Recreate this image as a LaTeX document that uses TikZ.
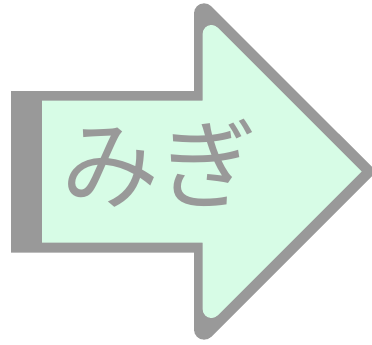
\documentclass[tikz,border=0pt]{standalone}
\usepackage{fontspec}
\newfontfamily\cjk{Noto Sans CJK JP}
\definecolor{rimgray}{HTML}{999999}
\definecolor{mintfill}{HTML}{D7FCE6}

\begin{document}
\begin{tikzpicture}[x=1pt,y=-1pt]
		\useasboundingbox (0,0) rectangle (372,345);
		\begin{scope}
			\clip (0,0) rectangle (372,345);
			% outer gray arrow
			\fill[rimgray] (11,91) -- (194,91) -- (194,13.4) arc[start angle=180,end angle=315,radius=10.1] -- (376.5,171.5) -- (211.25,336.75) arc[start angle=45,end angle=180,radius=10.1] -- (194,252.5) -- (11,252.5) -- cycle;
			% inner mint arrow
			\fill[mintfill] (42,100.5) -- (202.7,100.5) -- (202.7,33.7) arc[start angle=180,end angle=315,radius=8.7] -- (361.5,171.5) -- (217.55,315.45) arc[start angle=45,end angle=180,radius=8.7] -- (202.7,242.5) -- (42,242.5) -- cycle;
		\end{scope}
		\node[text=rimgray,font=\cjk\fontsize{98}{98}\selectfont,inner sep=0pt] (migi) at (159,163) {みぎ};
	\end{tikzpicture}
\end{document}
